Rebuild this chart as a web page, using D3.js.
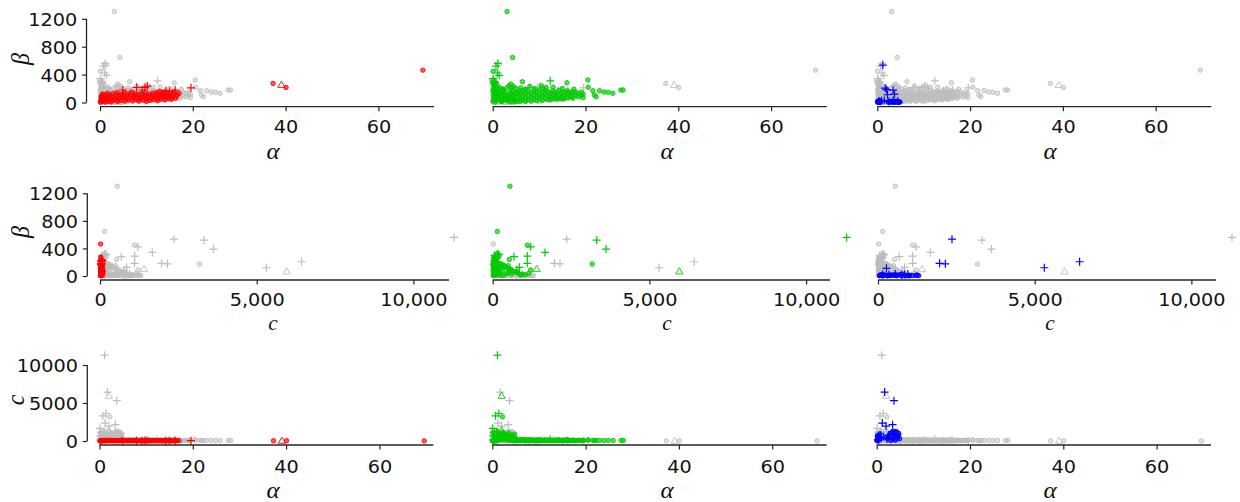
<!DOCTYPE html>
<html><head><meta charset="utf-8">
<script src="https://cdn.jsdelivr.net/npm/d3@7"></script>
<style>body{margin:0;background:#fff}svg{display:block}</style>
</head><body>
<svg id="chart" width="1240" height="502"></svg>
<script>
// ---------- DATA ----------
const alphaTicks = [0, 20, 40, 60];
const betaTicks = [0, 400, 800, 1200];
const cTicksX = [0, 5000, 10000];
const cTicksY = [0, 5000, 10000];

// [alpha, beta, c, marker]
const redPoints = [
[0.1,5,10,'o'],[0.2,30,40,'o'],[0.3,60,15,'o'],[0.4,90,50,'o'],[0.5,15,80,'o'],[0.6,45,25,'o'],[0.8,110,60,'o'],[0.9,20,35,'o'],[1.0,70,90,'o'],[0.2,80,30,'o'],[0.5,120,45,'o'],
[1.2,5,20,'o'],[1.3,40,55,'o'],[1.5,95,30,'o'],[1.6,130,70,'o'],[1.8,20,45,'o'],[1.9,65,100,'o'],[2.1,110,25,'o'],[2.3,10,60,'o'],[2.4,45,40,'o'],[2.6,85,75,'o'],[2.8,125,30,'o'],
[3.0,25,55,'o'],[3.2,60,20,'o'],[3.4,100,85,'o'],[3.6,140,45,'o'],[3.8,15,30,'o'],[4.0,50,65,'o'],[4.2,85,25,'o'],[4.4,120,50,'o'],[4.6,30,90,'o'],[4.8,70,35,'o'],
[5.0,105,60,'o'],[5.2,145,25,'o'],[5.4,20,45,'o'],[5.6,55,70,'o'],[5.8,90,30,'o'],[6.0,125,55,'o'],[6.2,35,40,'o'],[6.4,70,80,'o'],[6.6,110,20,'o'],[6.8,150,50,'o'],
[7.0,25,35,'o'],[7.2,60,65,'o'],[7.4,95,30,'o'],[7.6,130,45,'o'],[7.8,40,75,'o'],[8.0,75,25,'o'],[8.2,115,55,'o'],[8.4,20,40,'o'],[8.6,55,70,'o'],[8.8,90,30,'o'],
[9.0,130,50,'o'],[9.2,35,60,'o'],[9.4,70,25,'o'],[9.6,105,45,'o'],[9.8,140,35,'o'],[10.0,15,70,'o'],[10.2,50,30,'o'],[10.4,85,55,'o'],[10.6,120,40,'o'],[10.8,30,65,'o'],
[11.0,65,25,'o'],[11.2,100,50,'o'],[11.4,135,35,'o'],[11.6,40,60,'o'],[11.8,75,30,'o'],[12.0,110,45,'o'],[12.2,145,55,'o'],[12.4,25,40,'o'],[12.6,60,70,'o'],[12.8,95,30,'o'],
[13.0,130,50,'o'],[13.2,45,35,'o'],[13.4,80,60,'o'],[13.6,115,25,'o'],[13.8,150,45,'o'],[14.0,35,55,'o'],[14.2,70,30,'o'],[14.4,105,50,'o'],[14.6,140,40,'o'],[14.8,55,65,'o'],
[15.0,90,30,'o'],[15.2,125,45,'o'],[15.4,45,55,'o'],[15.6,80,35,'o'],[15.8,115,60,'o'],[16.0,150,40,'o'],[16.3,60,30,'o'],[16.6,100,50,'o'],[17.0,130,40,'o'],
[12.8,160,50,'o'],[13.5,140,40,'o'],
[4.9,179,40,'+'],[7.9,218,60,'+'],[9.1,179,30,'+'],[9.7,218,50,'+'],[10.2,235,70,'+'],[14.2,169,40,'+'],[16.2,179,55,'+'],[19.6,210,45,'+'],[15.0,160,35,'+'],
[37.3,273,25,'o'],[39.1,254,40,'^'],[40.1,215,30,'o'],[69.6,464,20,'o']
];

const greenPoints = [
[0.1,20,30,'o'],[0.2,60,80,'o'],[0.3,100,20,'o'],[0.4,140,60,'o'],[0.5,180,40,'o'],[0.6,220,90,'o'],[0.2,250,50,'o'],[0.3,210,30,'o'],[0.7,40,120,'o'],[0.8,80,50,'o'],
[0.9,120,100,'o'],[1.0,160,30,'o'],[1.1,200,70,'o'],[0.1,270,40,'o'],[0.5,260,60,'o'],[0.05,160,10,'o'],[0.15,110,50,'o'],[0.35,40,90,'o'],[0.6,10,20,'o'],[0.1,190,70,'o'],
[1.2,150,300,'o'],[1.5,120,450,'o'],[1.8,60,700,'o'],[2.0,25,950,'o'],[2.3,40,1150,'o'],[2.5,160,350,'o'],[2.8,90,600,'o'],[3.0,30,850,'o'],[3.3,110,500,'o'],[3.5,20,1050,'o'],
[3.8,140,400,'o'],[4.0,70,650,'o'],[4.3,45,800,'o'],[4.5,95,550,'o'],[4.8,15,900,'o'],[5.0,130,300,'o'],[1.4,100,250,'o'],[2.2,180,220,'o'],[3.1,80,320,'o'],[4.1,170,260,'o'],
[2.6,50,500,'o'],[3.6,60,750,'o'],[1.7,30,600,'o'],[4.6,35,450,'o'],[2.0,200,150,'o'],[3.0,210,120,'o'],[4.0,220,100,'o'],[1.0,240,90,'o'],[4.4,120,180,'o'],[1.9,10,350,'o'],[3.9,10,250,'o'],
[5.3,20,120,'o'],[5.3,80,60,'o'],[5.3,140,200,'o'],[5.9,10,80,'o'],[5.9,60,150,'o'],[5.9,120,40,'o'],[5.9,175,90,'o'],[6.5,30,200,'o'],[6.5,90,70,'o'],[6.5,150,130,'o'],
[7.1,15,50,'o'],[7.1,70,180,'o'],[7.1,130,90,'o'],[7.1,185,30,'o'],[7.7,40,110,'o'],[7.7,100,60,'o'],[7.7,160,150,'o'],[8.3,20,90,'o'],[8.3,80,40,'o'],[8.3,140,170,'o'],
[8.9,50,130,'o'],[8.9,110,70,'o'],[8.9,170,100,'o'],[9.5,25,60,'o'],[9.5,85,140,'o'],[9.5,145,50,'o'],[10.1,50,100,'o'],[10.1,110,160,'o'],[10.1,180,80,'o'],
[10.7,30,40,'o'],[10.7,90,120,'o'],[10.7,150,70,'o'],[11.3,60,150,'o'],[11.3,120,90,'o'],[11.3,180,50,'o'],[11.9,40,110,'o'],[11.9,100,60,'o'],[11.9,160,130,'o'],
[12.5,70,80,'o'],[12.5,130,140,'o'],[12.5,45,50,'o'],[13.1,55,100,'o'],[13.1,110,60,'o'],[13.1,165,120,'o'],[13.7,80,70,'o'],[13.7,140,40,'o'],[13.7,50,130,'o'],
[14.3,60,90,'o'],[14.3,120,150,'o'],[14.3,175,60,'o'],[14.9,75,100,'o'],[14.9,135,50,'o'],[14.9,50,80,'o'],[15.5,90,120,'o'],[15.5,150,70,'o'],[15.5,60,40,'o'],
[16.1,70,90,'o'],[16.1,130,60,'o'],[16.1,170,110,'o'],[16.7,80,50,'o'],[16.7,140,100,'o'],[17.3,90,80,'o'],[17.3,150,60,'o'],[17.3,60,120,'o'],[17.9,100,70,'o'],[17.9,150,40,'o'],
[18.5,80,90,'o'],[18.5,130,60,'o'],[19.1,100,50,'o'],[19.1,150,80,'o'],[19.5,70,60,'o'],[19.5,120,100,'o'],
[6.0,210,80,'o'],[8.0,230,60,'o'],[10.5,240,90,'o'],[13.0,220,70,'o'],[15.0,200,60,'o'],[17.5,190,50,'o'],[3.5,240,100,'o'],[5.0,200,40,'o'],[11.5,215,45,'o'],[9.0,200,55,'o'],[7.0,190,90,'o'],[4.5,230,35,'o'],
[3.1,1303,550,'o'],[4.3,646,147,'o'],[1.1,560,11295,'+'],[0.7,520,3319,'+'],[1.4,390,3617,'+'],[0.1,448,1104,'o'],[1.0,423,1212,'+'],[0.1,342,1669,'+'],[12.4,311,200,'+'],
[0.3,300,60,'+'],[0.5,289,1104,'+'],[0.2,280,680,'+'],[0.9,184,1104,'+'],[1.6,87,766,'+'],[0.4,241,530,'o'],[0.8,149,498,'o'],[2.4,126,849,'+'],[1.2,87,1212,'o'],
[2.0,101,1404,'^'],[2.0,68,5954,'^'],[2.2,173,3177,'o'],[3.9,265,150,'o'],[6.4,298,120,'o'],[10.8,203,90,'o'],[16.0,283,200,'o'],[20.5,322,150,'o'],[20.6,218,100,'o'],
[21.6,169,80,'o'],[21.9,107,60,'o'],[22.3,83,60,'o'],[23.0,169,90,'o'],[24.0,150,70,'o'],[24.9,146,70,'o'],[25.9,131,60,'o'],[27.6,179,80,'o'],[28.1,179,80,'o'],
[0.7,155,300,'+'],[0.15,322,150,'+']
];

const bluePoints = [
[0.05,5,50,'o'],[0.1,15,200,'o'],[0.2,8,400,'o'],[0.3,20,100,'o'],[0.4,3,600,'o'],[0.5,12,300,'o'],[0.6,25,800,'o'],[0.7,6,950,'o'],[0.15,18,700,'o'],[0.35,10,500,'o'],[0.55,2,150,'o'],[0.8,15,400,'o'],
[2.3,5,300,'o'],[2.6,12,700,'o'],[2.9,3,1000,'o'],[3.1,18,500,'o'],[3.3,8,1200,'o'],[3.5,14,200,'o'],[3.7,4,900,'o'],[3.9,16,600,'o'],[4.1,7,1100,'o'],[4.3,12,400,'o'],
[4.5,3,800,'o'],[4.7,10,1000,'o'],[4.9,5,300,'o'],[3.0,10,50,'o'],[4.0,10,100,'o'],[3.6,6,1300,'o'],[4.2,16,1250,'o'],[4.6,8,550,'o'],
[0.4,20,150,'+'],[0.9,25,350,'+'],[1.5,30,550,'+'],[2.5,15,750,'+'],[3.4,28,950,'+'],[4.4,20,850,'+'],[2.2,111,270,'+'],
[1.2,535,2361,'+'],[2.0,184,1966,'+'],[3.4,177,2148,'+'],[3.7,120,5307,'+'],[1.7,207,6433,'+']
];

const clusterColors = ["#ff0000", "#00cc00", "#0000ff"];
const greyColor = "#bdbdbd";

// ---------- DRAW ----------
const svg = d3.select("#chart");
const sx = 1.04;
const tickFont = "DejaVu Sans, sans-serif";
const tickSize = 18.5;
const mathFont = "Liberation Serif, serif";

const allPoints = [
  ...redPoints.map(p => ({alpha:p[0], beta:p[1], c:p[2], m:p[3], k:0})),
  ...greenPoints.map(p => ({alpha:p[0], beta:p[1], c:p[2], m:p[3], k:1})),
  ...bluePoints.map(p => ({alpha:p[0], beta:p[1], c:p[2], m:p[3], k:2}))
];

const rows = [
  {xVar:"alpha", yVar:"beta", xTicks:alphaTicks, yTicks:betaTicks, xFmt:d3.format("d"), yFmt:d3.format("d"),
   y0:102.5, yTop:18.8, spineY:106.7, ySpineX:86.5, xStart:[100,492.7,877.3], xEnd:[434,826.7,1211.3], pxPerX:4.64,
   xLabel:"α", yLabel:"β", xLabelBase:159, xLabelSize:24, yLabelX:29, yLabelY:59, tickBase:133},
  {xVar:"c", yVar:"beta", xTicks:cTicksX, yTicks:betaTicks, xFmt:d3.format(","), yFmt:d3.format("d"),
   y0:276, yTop:193.3, spineY:280, ySpineX:87.3, xStart:[100,492.7,878], xEnd:[449,830,1216], pxPerX:156.7/5000,
   xLabel:"c", yLabel:"β", xLabelBase:329.5, xLabelSize:20.5, yLabelX:29, yLabelY:232, tickBase:306},
  {xVar:"alpha", yVar:"c", xTicks:alphaTicks, yTicks:cTicksY, xFmt:d3.format("d"), yFmt:d3.format("d"),
   y0:441, yTop:365, spineY:445, ySpineX:87.3, xStart:[99.5,492.3,876.7], xEnd:[433.3,826.7,1211], pxPerX:4.665,
   xLabel:"α", yLabel:"c", xLabelBase:498, xLabelSize:24, yLabelX:24, yLabelY:400, tickBase:473}
];
const xLabelCenters = [273, 667, 1050];

const plusPath = "M-4,0H4M0,-4V4";
const triPath = "M0,-3.6L3.6,2.6L-3.6,2.6Z";

rows.forEach((r) => {
  const yMax = r.yTicks[r.yTicks.length-1];
  const y = d3.scaleLinear().domain([0, yMax]).range([r.y0, r.yTop]);
  for (let col = 0; col < 3; col++) {
    const xMax = r.xTicks[r.xTicks.length-1];
    const x = d3.scaleLinear().domain([0, xMax]).range([r.xStart[col], r.xStart[col] + r.pxPerX*xMax]);
    const g = svg.append("g");

    const ordered = allPoints.filter(d => d.k !== col).concat(allPoints.filter(d => d.k === col));
    ordered.forEach(d => {
      const hi = d.k === col;
      const col_ = hi ? clusterColors[col] : greyColor;
      const px = x(d[r.xVar]), py = y(d[r.yVar]);
      if (d.m === "o") {
        g.append("circle").attr("cx", px).attr("cy", py).attr("r", 2.2)
          .attr("fill", col_).attr("fill-opacity", hi ? 0.65 : 0.45).attr("stroke", col_).attr("stroke-width", 0.9);
      } else if (d.m === "+") {
        g.append("path").attr("d", plusPath).attr("transform", `translate(${px},${py})`)
          .attr("stroke", col_).attr("stroke-width", 1.2).attr("fill", "none");
      } else {
        g.append("path").attr("d", triPath).attr("transform", `translate(${px},${py})`)
          .attr("stroke", col_).attr("stroke-width", 0.9).attr("fill", "none");
      }
    });

    const xa = g.append("g").attr("transform", `translate(0,${r.spineY})`)
      .call(d3.axisBottom(x).tickValues(r.xTicks).tickFormat(r.xFmt).tickSize(4.5).tickPadding(0));
    xa.select(".domain").remove();
    xa.selectAll(".tick line").attr("stroke", "#262626").attr("stroke-width", 1.2);
    xa.selectAll(".tick text").attr("font-family", tickFont).attr("font-size", tickSize).attr("fill", "#111")
      .attr("y", r.tickBase - r.spineY).attr("dy", null)
      .attr("transform", `scale(${sx},1)`);
    g.append("line").attr("x1", r.xStart[col]).attr("x2", r.xEnd[col]).attr("y1", r.spineY).attr("y2", r.spineY)
      .attr("stroke", "#262626").attr("stroke-width", 1.3);

    g.append("text").attr("transform", `translate(${xLabelCenters[col]},${r.xLabelBase}) scale(${sx},1)`)
      .attr("text-anchor", "middle").attr("font-family", mathFont).attr("font-style", "italic")
      .attr("font-size", r.xLabelSize).attr("fill", "#111").text(r.xLabel);

    if (col === 0) {
      const ya = g.append("g").attr("transform", `translate(${r.ySpineX},0)`)
        .call(d3.axisLeft(y).tickValues(r.yTicks).tickFormat(r.yFmt).tickSize(4.5).tickPadding(4.5));
      ya.select(".domain").remove();
      ya.selectAll(".tick line").attr("stroke", "#262626").attr("stroke-width", 1.2);
      ya.selectAll(".tick text").attr("font-family", tickFont).attr("font-size", tickSize).attr("fill", "#111")
        .attr("dy", "0.36em").attr("transform", `scale(${sx},1)`);
      g.append("line").attr("x1", r.ySpineX).attr("x2", r.ySpineX).attr("y1", y(0)).attr("y2", y(yMax))
        .attr("stroke", "#262626").attr("stroke-width", 1.3);
      g.append("text").attr("transform", `translate(${r.yLabelX},${r.yLabelY}) scale(${sx},1) rotate(-90)`)
        .attr("text-anchor", "middle").attr("font-family", mathFont).attr("font-style", "italic")
        .attr("font-size", 24).attr("fill", "#111").text(r.yLabel);
    }
  }
});
</script>
</body></html>
